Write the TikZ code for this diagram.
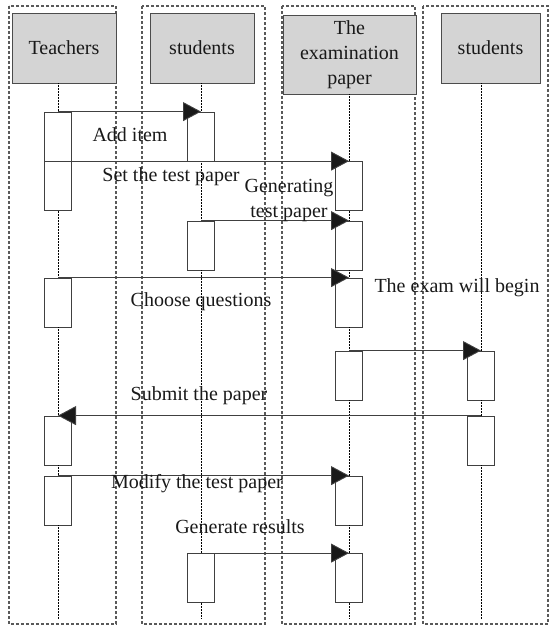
\documentclass[tikz,border=0pt]{standalone}
\usepackage{fontspec}
\setmainfont{Liberation Serif}
\usetikzlibrary{arrows.meta}

\begin{document}
\begin{tikzpicture}[x=1pt, y=-1pt,
    every node/.style={font=\fontsize{20}{25}\selectfont, text=black!90, inner sep=0pt},
    lane/.style={draw=black!65, line width=2pt, dash pattern=on 3pt off 2pt},
    header/.style={draw=black!70, fill=black!17, line width=0.8pt, align=center},
    act/.style={draw=black!75, fill=white, line width=0.8pt, minimum width=27pt, minimum height=49pt},
    life/.style={densely dotted, line width=0.5pt},
    msg/.style={draw=black!75, line width=0.9pt, -{Triangle[length=18pt, width=19pt, fill=black!90]}}]
    \useasboundingbox (0,0) rectangle (550,627);

    % swimlanes
    \draw[lane] (9,6) rectangle (116,624);
    \draw[lane] (142,6) rectangle (265,624);
    \draw[lane] (282,6) rectangle (415,624);
    \draw[lane] (423,6) rectangle (548,624);

    % headers
    \node[header, minimum width=104pt, minimum height=70pt] (teach) at (64,48) {Teachers};
    \node[header, minimum width=104pt, minimum height=70pt] (stud) at (202,48) {students};
    \node[header, minimum width=133pt, minimum height=79pt] (exam) at (349.5,54.5) {The\\examination\\paper};
    \node[header, minimum width=99pt, minimum height=70pt] (stud2) at (490.5,48) {students};
    \coordinate (bottom) at (0,619);

    % activations
    \node[act] (t1) at (58,136.5) {};
    \node[act] (t2) at (58,186) {};
    \node[act] (t3) at (58,302.5) {};
    \node[act] (t4) at (58,440.5) {};
    \node[act] (t5) at (58,500.5) {};
    \node[act] (s1) at (201,136.5) {};
    \node[act] (s2) at (201,245.5) {};
    \node[act] (s3) at (201,578) {};
    \node[act] (e1) at (349,186) {};
    \node[act] (e2) at (349,245.5) {};
    \node[act] (e3) at (349,302.5) {};
    \node[act] (e4) at (349,375.5) {};
    \node[act] (e5) at (349,500.5) {};
    \node[act] (e6) at (349,578) {};
    \node[act] (u1) at (481,375.5) {};
    \node[act] (u2) at (481,440.5) {};

    % lifelines
    \draw[life] (t1 |- teach.south) -- (t1.north);
    \draw[life] (t1.south) -- (t2.north);
    \draw[life] (t2.south) -- (t3.north);
    \draw[life] (t3.south) -- (t4.north);
    \draw[life] (t4.south) -- (t5.north);
    \draw[life] (t5.south) -- (t5 |- bottom);
    \draw[life] (s1 |- stud.south) -- (s1.north);
    \draw[life] (s1.south) -- (s2.north);
    \draw[life] (s2.south) -- (s3.north);
    \draw[life] (s3.south) -- (s3 |- bottom);
    \draw[life] (e1 |- exam.south) -- (e1.north);
    \draw[life] (e1.south) -- (e2.north);
    \draw[life] (e2.south) -- (e3.north);
    \draw[life] (e3.south) -- (e4.north);
    \draw[life] (e4.south) -- (e5.north);
    \draw[life] (e5.south) -- (e6.north);
    \draw[life] (e6.south) -- (e6 |- bottom);
    \draw[life] (u1 |- stud2.south) -- (u1.north);
    \draw[life] (u1.south) -- (u2.north);
    \draw[life] (u2.south) -- (u2 |- bottom);

    % messages
    \draw[msg] (t1.north) -- (s1.north);
    \draw[msg] (t2.north) -- (e1.north);
    \draw[msg] (s2.north) -- (e2.north);
    \draw[msg] (t3.north) -- (e3.north);
    \draw[msg] (e4.north) -- (u1.north);
    \draw[msg] (u2.north) -- (t4.north);
    \draw[msg] (t5.north) -- (e5.north);
    \draw[msg] (s3.north) -- (e6.north);

    % labels
    \node (lAdd) at (130,135) {Add item};
    \node (lSet) at (171,177) {Set the test paper};
    \node[align=center] (lGen) at (289,201) {Generating\\test paper};
    \node (lChoose) at (201,302) {Choose questions};
    \node (lBegin) at (457,288) {The exam will begin};
    \node (lSubmit) at (199,396) {Submit the paper};
    \node (lModify) at (197,484) {Modify the test paper};
    \node (lResults) at (240,527) {Generate results};
\end{tikzpicture}
\end{document}
